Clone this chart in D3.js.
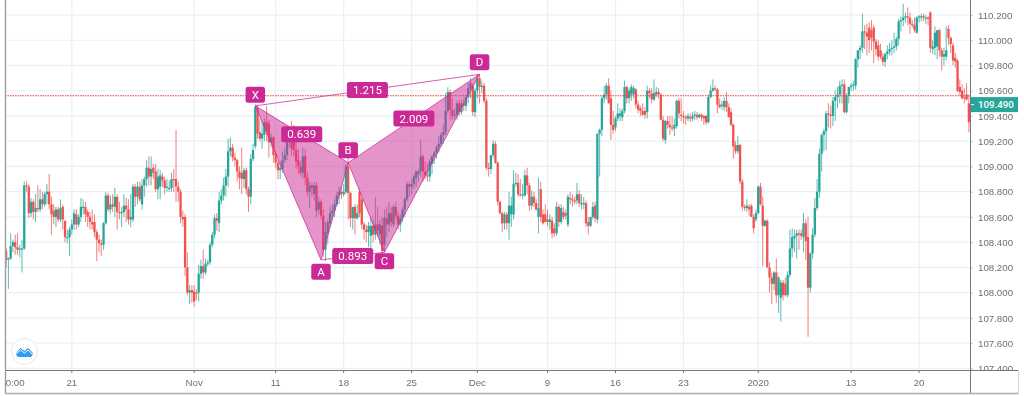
<!DOCTYPE html>
<html>
<head>
<meta charset="utf-8">
<script src="https://cdn.jsdelivr.net/npm/d3@7"></script>
<style>
html, body { margin: 0; padding: 0; background: #fff; overflow: hidden; }
svg { display: block; font-family: Roboto, sans-serif; filter: blur(0.3px); }
</style>
</head>
<body>
<div id="chart"></div>
<script>
// 4h candles, one line per day of six
var opens = [
108.33,108.26,108.27,108.37,108.40,108.36,
108.34,108.35,108.35,108.85,108.84,108.63,
108.72,108.64,108.67,108.66,108.74,108.70,
108.78,108.80,108.70,108.65,108.60,108.66,
108.58,108.68,108.57,108.44,108.44,108.50,
108.54,108.62,108.54,108.60,108.68,108.68,
108.64,108.60,108.56,108.56,108.48,108.42,
108.39,108.38,108.55,108.77,108.66,108.70,
108.68,108.76,108.64,108.63,108.64,108.69,
108.66,108.58,108.58,108.84,108.76,108.84,
108.70,108.85,108.90,108.99,108.92,108.99,
108.96,108.82,108.84,108.92,108.89,108.83,
108.83,108.83,108.90,108.90,108.84,108.80,
108.60,108.60,108.20,108.00,108.02,108.01,
108.00,108.00,108.15,108.21,108.16,108.23,
108.24,108.38,108.46,108.59,108.55,108.73,
108.77,108.85,108.92,109.12,109.15,109.07,
109.05,108.96,108.95,108.90,108.97,108.82,
108.76,109.06,109.16,109.46,109.27,109.22,
109.25,109.35,109.34,109.19,109.23,109.10,
109.03,108.97,108.98,109.05,109.09,109.21,
109.23,109.24,109.13,109.05,109.00,108.95,
109.08,108.91,108.80,108.85,108.78,108.85,
108.66,108.72,108.61,108.34,108.47,108.55,
108.63,108.65,108.70,108.77,108.80,108.78,
108.80,109.00,108.79,108.59,108.68,108.59,
108.80,108.74,108.54,108.50,108.48,108.45,
108.53,108.46,108.54,108.46,108.53,108.38,
108.59,108.54,108.63,108.54,108.68,108.61,
108.54,108.59,108.66,108.74,108.86,108.84,
108.86,108.91,108.94,108.96,109.08,108.96,
108.93,108.92,109.02,109.08,109.11,109.15,
109.18,109.25,109.27,109.44,109.59,109.45,
109.40,109.41,109.50,109.43,109.50,109.48,
109.55,109.62,109.64,109.43,109.60,109.70,
109.63,109.64,109.52,108.99,108.98,109.09,
109.18,109.03,108.72,108.63,108.55,108.62,
108.55,108.62,108.62,108.86,108.87,108.78,
108.77,108.77,108.93,108.85,108.69,108.76,
108.71,108.60,108.82,108.62,108.62,108.58,
108.56,108.57,108.51,108.47,108.68,108.56,
108.64,108.63,108.54,108.75,108.74,108.73,
108.73,108.78,108.70,108.70,108.71,108.56,
108.53,108.60,108.69,108.58,109.26,109.29,
109.54,109.57,109.64,109.54,109.33,109.31,
109.38,109.40,109.39,109.44,109.63,109.54,
109.57,109.57,109.61,109.49,109.46,109.44,
109.44,109.43,109.60,109.58,109.53,109.57,
109.59,109.57,109.37,109.21,109.36,109.33,
109.31,109.30,109.32,109.52,109.41,109.40,
109.39,109.38,109.39,109.38,109.40,109.41,
109.39,109.41,109.40,109.40,109.35,109.55,
109.60,109.62,109.61,109.49,109.48,109.47,
109.52,109.47,109.43,109.33,109.17,109.12,
109.17,108.88,108.68,108.67,108.68,108.69,
108.60,108.58,108.63,108.84,108.69,108.53,
108.57,108.20,108.12,108.07,108.16,107.98,
107.96,108.08,108.07,107.98,108.14,108.35,
108.43,108.45,108.47,108.47,108.44,108.55,
108.44,108.04,108.31,108.46,108.67,108.80,
109.10,109.25,109.28,109.42,109.41,109.40,
109.52,109.55,109.57,109.64,109.65,109.43,
109.56,109.63,109.64,109.64,109.85,109.92,
109.94,110.07,110.06,110.10,110.08,110.10,
109.99,109.96,109.92,109.87,109.83,109.89,
109.91,109.93,109.94,109.95,110.01,110.15,
110.16,110.18,110.19,110.18,110.13,110.12,
110.06,110.18,110.19,110.19,110.18,110.18,
110.22,109.93,109.94,109.95,110.08,109.92,
109.87,109.87,110.09,110.02,109.96,109.86,
109.84,109.63,109.60,109.55,109.57,109.50
];
var highs = [
108.35,108.28,108.47,108.42,108.46,108.47,
108.38,108.42,108.88,108.88,108.86,108.75,
108.74,108.78,108.85,108.82,108.80,108.80,
108.86,108.94,108.76,108.70,108.68,108.68,
108.74,108.70,108.57,108.50,108.52,108.58,
108.66,108.66,108.62,108.75,108.74,108.72,
108.66,108.64,108.66,108.62,108.50,108.46,
108.42,108.56,108.80,108.79,108.77,108.78,
108.83,108.78,108.72,108.68,108.78,108.75,
108.74,108.78,108.86,108.86,108.88,108.88,
108.90,108.92,109.05,109.08,109.08,109.02,
109.02,108.98,108.97,108.95,108.92,108.90,
108.89,108.95,108.98,109.29,108.88,108.82,
108.65,108.62,108.32,108.06,108.06,108.06,
108.03,108.22,108.26,108.34,108.27,108.26,
108.40,108.48,108.62,108.63,108.80,108.82,
108.91,108.98,109.22,109.23,109.18,109.11,
109.06,109.00,109.15,108.99,108.99,108.84,
109.10,109.18,109.49,109.49,109.38,109.36,
109.38,109.48,109.37,109.26,109.24,109.12,
109.05,109.04,109.12,109.15,109.24,109.30,
109.36,109.33,109.22,109.14,109.04,109.15,
109.14,108.95,108.88,108.87,108.88,108.88,
108.76,108.74,108.66,108.56,108.58,108.68,
108.70,108.74,108.80,108.84,108.84,108.86,
109.02,109.07,108.80,108.68,108.70,108.70,
108.82,108.76,108.56,108.54,108.56,108.60,
108.58,108.76,108.68,108.58,108.60,108.66,
108.68,108.72,108.68,108.70,108.72,108.64,
108.62,108.68,108.76,108.88,108.88,108.90,
108.94,108.97,108.98,109.21,109.10,109.04,
109.02,109.06,109.09,109.12,109.17,109.24,
109.27,109.33,109.58,109.63,109.61,109.54,
109.46,109.52,109.53,109.53,109.54,109.57,
109.66,109.70,109.66,109.62,109.73,109.73,
109.68,109.66,109.54,109.03,109.09,109.21,
109.20,109.04,108.73,108.64,108.64,108.64,
108.80,108.76,108.97,108.95,108.94,108.90,
108.86,108.97,108.99,108.87,108.81,108.80,
108.74,108.91,108.88,108.66,108.70,108.66,
108.62,108.60,108.55,108.72,108.70,108.70,
108.68,108.66,108.78,108.80,108.78,108.76,
108.87,108.81,108.78,108.76,108.73,108.60,
108.60,108.72,108.72,109.26,109.30,109.56,
109.64,109.66,109.70,109.60,109.44,109.40,
109.50,109.46,109.46,109.68,109.64,109.62,
109.65,109.64,109.62,109.52,109.48,109.50,
109.47,109.64,109.62,109.62,109.69,109.63,
109.62,109.58,109.40,109.37,109.40,109.40,
109.40,109.38,109.53,109.54,109.54,109.44,
109.41,109.42,109.42,109.43,109.44,109.43,
109.42,109.42,109.41,109.41,109.57,109.64,
109.69,109.64,109.62,109.54,109.52,109.55,
109.59,109.50,109.46,109.34,109.20,109.24,
109.18,108.90,108.70,108.74,108.70,108.70,
108.62,108.66,108.85,108.87,108.76,108.58,
108.58,108.24,108.16,108.17,108.27,108.13,
108.10,108.10,108.12,108.17,108.50,108.51,
108.50,108.50,108.50,108.50,108.63,108.58,
108.60,108.32,108.51,108.75,108.90,109.14,
109.26,109.30,109.44,109.50,109.48,109.55,
109.60,109.63,109.68,109.69,109.69,109.58,
109.63,109.66,109.68,109.86,109.92,109.96,
110.21,110.12,110.13,110.14,110.16,110.12,
110.01,110.00,109.97,109.90,109.90,109.96,
109.98,110.00,110.06,110.03,110.17,110.19,
110.29,110.22,110.26,110.22,110.16,110.18,
110.19,110.20,110.21,110.21,110.20,110.19,
110.23,110.00,110.11,110.08,110.09,109.94,
109.94,110.11,110.12,110.03,109.98,109.90,
109.85,109.69,109.65,109.62,109.66,109.57
];
var lows = [
108.20,108.03,108.26,108.32,108.30,108.30,
108.28,108.16,108.34,108.80,108.59,108.60,
108.58,108.56,108.64,108.64,108.66,108.68,
108.70,108.66,108.46,108.54,108.52,108.56,
108.56,108.50,108.40,108.39,108.29,108.46,
108.50,108.50,108.52,108.56,108.62,108.56,
108.52,108.50,108.50,108.44,108.25,108.32,
108.29,108.34,108.54,108.64,108.62,108.64,
108.60,108.50,108.58,108.52,108.60,108.56,
108.54,108.52,108.56,108.68,108.70,108.72,
108.66,108.76,108.84,108.85,108.85,108.90,
108.80,108.74,108.74,108.84,108.78,108.80,
108.80,108.80,108.80,108.72,108.72,108.55,
108.52,108.13,107.98,107.91,107.92,107.89,
107.94,107.93,108.11,108.11,108.14,108.21,
108.22,108.36,108.43,108.49,108.48,108.70,
108.73,108.76,108.84,109.08,109.04,109.00,
108.88,108.82,108.78,108.83,108.78,108.64,
108.70,109.04,109.14,109.22,109.20,109.14,
109.20,109.20,109.07,109.15,109.03,108.99,
108.90,108.90,108.95,109.03,109.05,109.15,
109.09,109.08,108.98,108.94,108.92,108.90,
108.85,108.76,108.67,108.76,108.73,108.60,
108.62,108.58,108.28,108.25,108.38,108.52,
108.58,108.60,108.68,108.70,108.74,108.76,
108.78,108.58,108.52,108.50,108.46,108.58,
108.60,108.50,108.42,108.40,108.36,108.34,
108.40,108.42,108.44,108.38,108.26,108.32,
108.44,108.48,108.52,108.52,108.58,108.50,
108.48,108.56,108.60,108.72,108.76,108.78,
108.82,108.84,108.88,108.92,108.88,108.90,
108.88,108.88,108.94,109.02,109.06,109.11,
109.16,109.18,109.25,109.42,109.37,109.37,
109.38,109.37,109.40,109.41,109.44,109.44,
109.50,109.54,109.40,109.39,109.54,109.50,
109.58,109.50,108.97,108.92,108.94,109.07,
109.02,108.69,108.62,108.48,108.50,108.50,
108.42,108.52,108.58,108.84,108.76,108.76,
108.74,108.76,108.78,108.65,108.66,108.68,
108.65,108.47,108.56,108.54,108.56,108.53,
108.50,108.43,108.44,108.45,108.52,108.54,
108.58,108.58,108.52,108.70,108.68,108.70,
108.70,108.68,108.66,108.66,108.52,108.46,
108.52,108.58,108.56,108.55,108.92,109.24,
109.50,109.53,109.50,109.21,109.26,109.28,
109.36,109.36,109.36,109.42,109.50,109.50,
109.52,109.54,109.46,109.42,109.40,109.40,
109.38,109.38,109.54,109.50,109.52,109.55,
109.54,109.37,109.20,109.18,109.30,109.25,
109.28,109.24,109.30,109.38,109.36,109.34,
109.33,109.36,109.35,109.36,109.37,109.37,
109.38,109.36,109.33,109.33,109.34,109.54,
109.59,109.60,109.42,109.46,109.45,109.44,
109.43,109.39,109.32,109.06,109.10,109.10,
108.86,108.65,108.65,108.64,108.61,108.60,
108.47,108.56,108.62,108.69,108.21,108.52,
108.20,108.00,107.91,108.02,107.92,107.84,
107.77,107.94,107.97,107.96,108.12,108.28,
108.32,108.27,108.34,108.42,108.32,108.26,
107.65,108.00,108.27,108.44,108.65,108.75,
108.96,109.12,109.13,109.31,109.30,109.32,
109.36,109.46,109.50,109.50,109.42,109.42,
109.50,109.60,109.60,109.61,109.78,109.85,
109.90,109.93,109.88,109.90,109.92,109.82,
109.88,109.84,109.85,109.80,109.79,109.85,
109.88,109.88,109.90,109.92,109.96,110.07,
110.11,110.14,110.12,110.05,110.10,110.06,
110.05,110.14,110.15,110.15,110.13,110.12,
109.90,109.89,109.88,109.85,109.87,109.76,
109.80,109.84,109.96,109.90,109.80,109.78,
109.59,109.56,109.53,109.50,109.52,109.27
];
var closes = [
108.26,108.27,108.37,108.40,108.36,108.34,
108.35,108.35,108.85,108.84,108.63,108.72,
108.64,108.67,108.66,108.74,108.70,108.78,
108.80,108.70,108.62,108.60,108.66,108.58,
108.67,108.58,108.44,108.44,108.50,108.54,
108.63,108.54,108.60,108.68,108.68,108.62,
108.60,108.56,108.54,108.48,108.42,108.39,
108.38,108.55,108.77,108.66,108.70,108.68,
108.76,108.64,108.63,108.64,108.69,108.66,
108.58,108.60,108.84,108.76,108.84,108.74,
108.85,108.90,108.99,108.92,108.98,108.95,
108.82,108.92,108.93,108.89,108.83,108.84,
108.83,108.90,108.89,108.84,108.80,108.60,
108.58,108.20,108.00,108.02,108.00,107.93,
107.99,108.15,108.21,108.16,108.23,108.24,
108.38,108.46,108.59,108.57,108.73,108.77,
108.85,108.92,109.12,109.15,109.07,109.05,
108.96,108.91,108.90,108.97,108.82,108.76,
109.06,109.13,109.47,109.26,109.22,109.26,
109.35,109.27,109.19,109.23,109.09,109.03,
108.97,108.99,109.05,109.09,109.21,109.23,
109.14,109.13,109.04,109.00,108.95,109.08,
108.91,108.80,108.85,108.83,108.85,108.65,
108.72,108.61,108.34,108.48,108.56,108.63,
108.65,108.70,108.77,108.80,108.78,108.80,
109.00,108.79,108.59,108.68,108.59,108.63,
108.63,108.54,108.50,108.48,108.53,108.53,
108.46,108.54,108.49,108.54,108.33,108.59,
108.54,108.63,108.56,108.68,108.61,108.54,
108.59,108.66,108.74,108.86,108.84,108.86,
108.92,108.96,108.96,109.08,108.96,108.93,
108.92,109.04,109.08,109.11,109.15,109.18,
109.25,109.27,109.44,109.59,109.45,109.40,
109.41,109.50,109.43,109.50,109.48,109.55,
109.62,109.66,109.43,109.60,109.70,109.63,
109.64,109.52,108.99,108.98,109.09,109.18,
109.03,108.72,108.63,108.55,108.62,108.55,
108.69,108.69,108.86,108.87,108.78,108.77,
108.78,108.93,108.85,108.69,108.76,108.71,
108.66,108.67,108.60,108.55,108.56,108.56,
108.58,108.47,108.47,108.68,108.56,108.67,
108.60,108.61,108.76,108.74,108.73,108.72,
108.78,108.71,108.71,108.71,108.55,108.53,
108.60,108.68,108.59,109.26,109.29,109.54,
109.57,109.64,109.50,109.33,109.29,109.38,
109.42,109.42,109.44,109.63,109.54,109.60,
109.63,109.62,109.49,109.45,109.44,109.41,
109.41,109.60,109.58,109.53,109.58,109.59,
109.57,109.37,109.22,109.36,109.33,109.31,
109.30,109.33,109.52,109.42,109.40,109.39,
109.38,109.40,109.38,109.40,109.41,109.39,
109.41,109.39,109.38,109.35,109.55,109.60,
109.62,109.61,109.49,109.47,109.49,109.52,
109.47,109.39,109.33,109.16,109.12,109.17,
108.88,108.68,108.67,108.69,108.66,108.60,
108.51,108.63,108.84,108.70,108.53,108.57,
108.20,108.12,108.07,108.16,107.98,108.12,
108.08,107.98,107.98,108.14,108.35,108.44,
108.45,108.47,108.46,108.45,108.55,108.41,
108.04,108.31,108.46,108.67,108.80,109.10,
109.25,109.28,109.42,109.41,109.40,109.52,
109.55,109.57,109.64,109.65,109.43,109.56,
109.63,109.64,109.65,109.85,109.92,109.94,
110.07,110.06,110.03,110.00,110.02,109.99,
109.93,109.87,109.87,109.83,109.89,109.91,
109.93,109.94,109.95,110.01,110.15,110.16,
110.18,110.19,110.18,110.13,110.12,110.08,
110.18,110.19,110.19,110.18,110.18,110.17,
109.94,109.95,110.06,110.08,109.92,109.87,
109.89,109.92,110.02,109.97,109.84,109.83,
109.60,109.59,109.54,109.54,109.53,109.35
];

var yTickValues = [107.4, 107.6, 107.8, 108.0, 108.2, 108.4, 108.6, 108.8, 109.0, 109.2, 109.4, 109.6, 109.8, 110.0, 110.2];
var xTickIndex = [4, 29, 83, 119, 149, 179, 208, 239, 269, 299, 332, 373, 403];
var xTickLabels = ["0:00", "21", "Nov", "11", "18", "25", "Dec", "9", "16", "23", "2020", "13", "20"];

// harmonic pattern points, candle index and price
var pointNames = ["X", "A", "B", "C", "D"];
var pointIndex = [110, 139, 151, 167, 209];
var pointPrices = [109.48, 108.26, 109.03, 108.32, 109.73];
var ratioLabels = ["0.639", "0.893", "2.009", "1.215"];
var ratioEnds = [["X", "B"], ["A", "C"], ["B", "D"], ["X", "D"]];

var dashedPrice = 109.56;
var lastPrice = 109.49;

var UP = "#26a69a", DOWN = "#ef5350", PINK = "#cb2a96", GRID = "#e9f0f4", AXIS = "#73767f", TEXT = "#6c6f79";
var width = 1024, height = 396;
var plot = { left: 5, right: 970, top: 0, bottom: 370 };

var svg = d3.select("#chart").append("svg")
    .attr("width", width)
    .attr("height", height);

var n = closes.length;
var x = d3.scaleBand().domain(d3.range(n)).range([plot.left, plot.right]);
var y = d3.scaleLinear().domain([107.4, 110.2]).range([368.4, 15]);
var cx = function (i) { return x(i) + x.bandwidth() / 2; };

svg.append("defs").append("clipPath").attr("id", "plot-clip")
    .append("rect").attr("x", plot.left).attr("y", 0).attr("width", plot.right - plot.left).attr("height", plot.bottom);
svg.select("defs").append("clipPath").attr("id", "price-clip")
    .append("rect").attr("x", 0).attr("y", 0).attr("width", 60).attr("height", plot.bottom);

// grid
svg.append("g").selectAll("line").data(yTickValues).enter().append("line")
    .attr("x1", plot.left).attr("x2", plot.right)
    .attr("y1", d => y(d)).attr("y2", d => y(d))
    .attr("stroke", GRID).attr("stroke-width", 1.2);
svg.append("g").selectAll("line").data(xTickIndex.slice(1)).enter().append("line")
    .attr("x1", d => cx(d)).attr("x2", d => cx(d))
    .attr("y1", 0).attr("y2", plot.bottom)
    .attr("stroke", GRID).attr("stroke-width", 1.2);

// candles
var candles = svg.append("g").attr("clip-path", "url(#plot-clip)");
var idx = d3.range(n);
var colorOf = function (i) { return closes[i] >= opens[i] ? UP : DOWN; };
candles.selectAll(".wick").data(idx).enter().append("line")
    .attr("class", "wick")
    .attr("x1", d => cx(d)).attr("x2", d => cx(d))
    .attr("y1", d => y(highs[d])).attr("y2", d => y(lows[d]))
    .attr("stroke", colorOf).attr("stroke-opacity", 0.75).attr("stroke-width", 1);
candles.selectAll(".body").data(idx).enter().append("rect")
    .attr("class", "body")
    .attr("x", d => cx(d) - 1.15).attr("width", 2.3)
    .attr("y", d => Math.min(y(opens[d]), y(closes[d])))
    .attr("height", d => Math.max(1.2, Math.abs(y(opens[d]) - y(closes[d]))))
    .attr("fill", colorOf);

// dotted price line
svg.append("line")
    .attr("x1", plot.left).attr("x2", plot.right)
    .attr("y1", y(dashedPrice)).attr("y2", y(dashedPrice))
    .attr("stroke", "#f4403c").attr("stroke-width", 1.1).attr("stroke-dasharray", "1.5 1");

// pattern
var pointAt = {};
pointNames.forEach(function (name, i) {
    pointAt[name] = { x: cx(pointIndex[i]), y: y(pointPrices[i]) };
});
var pattern = svg.append("g");
var lineGen = d3.line().x(d => pointAt[d].x).y(d => pointAt[d].y);
[["X", "A", "B"], ["B", "C", "D"]].forEach(function (tri) {
    pattern.append("path")
        .attr("d", lineGen(tri) + "Z")
        .attr("fill", PINK).attr("fill-opacity", 0.5)
        .attr("stroke", PINK).attr("stroke-opacity", 0.75).attr("stroke-width", 1);
});
[["X", "D"], ["A", "C"]].forEach(function (seg) {
    pattern.append("path")
        .attr("d", lineGen(seg))
        .attr("fill", "none")
        .attr("stroke", PINK).attr("stroke-opacity", 0.75).attr("stroke-width", 1);
});

function addTag(g, text, mx, my, w) {
    g.append("rect")
        .attr("x", mx - w / 2).attr("y", my - 8)
        .attr("width", w).attr("height", 16).attr("rx", 2.5)
        .attr("fill", PINK);
    g.append("text")
        .attr("x", mx).attr("y", my).attr("dy", "0.36em")
        .attr("text-anchor", "middle")
        .attr("fill", "#fff").style("font-size", "11.5px")
        .text(text);
}

ratioLabels.forEach(function (label, i) {
    var a = pointAt[ratioEnds[i][0]], b = pointAt[ratioEnds[i][1]];
    addTag(pattern, label, (a.x + b.x) / 2, (a.y + b.y) / 2, 41);
});
var tagOffset = { X: -11, A: 12, B: -12.5, C: 9, D: -12 };
pointNames.forEach(function (name) {
    var p = pointAt[name];
    addTag(pattern, name, p.x, p.y + tagOffset[name], 19.5);
});

// price axis
var yAxis = svg.append("g")
    .attr("transform", "translate(" + plot.right + ",0)")
    .attr("clip-path", "url(#price-clip)")
    .call(d3.axisRight(y).tickValues(yTickValues).tickFormat(d3.format(".3f")).tickSize(3).tickPadding(5));
yAxis.select(".domain").remove();
yAxis.selectAll("line").attr("stroke", "#c9ccd2");
yAxis.selectAll("text").attr("fill", TEXT).style("font-size", "9.7px");

// time axis
var xAxis = svg.append("g")
    .attr("transform", "translate(0," + plot.bottom + ")")
    .call(d3.axisBottom(x).tickValues(xTickIndex)
        .tickFormat(function (d) { return xTickLabels[xTickIndex.indexOf(d)]; })
        .tickSize(3).tickPadding(6));
xAxis.select(".domain").remove();
xAxis.selectAll("line").attr("stroke", AXIS);
xAxis.selectAll("text").attr("fill", TEXT).style("font-size", "9.7px");
xAxis.selectAll(".tick").filter(d => d === xTickIndex[0]).select("line").remove();

// frame
svg.append("line").attr("x1", plot.left).attr("x2", 1018).attr("y1", plot.bottom + 0.5).attr("y2", plot.bottom + 0.5).attr("stroke", AXIS);
svg.append("line").attr("x1", plot.right + 0.5).attr("x2", plot.right + 0.5).attr("y1", 0).attr("y2", 393).attr("stroke", AXIS);
svg.append("line").attr("x1", 5.5).attr("x2", 5.5).attr("y1", 0).attr("y2", 394).attr("stroke", "#9a9da6").attr("stroke-width", 1.4);
svg.append("line").attr("x1", 5).attr("x2", 1019).attr("y1", 393.5).attr("y2", 393.5).attr("stroke", "#a9acb3").attr("stroke-width", 1.4);
svg.append("line").attr("x1", 1018.5).attr("x2", 1018.5).attr("y1", plot.bottom).attr("y2", 394).attr("stroke", "#d5d7db");

// last price tag
var tag = svg.append("g");
tag.append("rect")
    .attr("x", plot.right + 1).attr("y", y(lastPrice) - 7.5)
    .attr("width", 47).attr("height", 15)
    .attr("fill", UP);
tag.append("line")
    .attr("x1", plot.right + 1).attr("x2", plot.right + 4)
    .attr("y1", y(lastPrice)).attr("y2", y(lastPrice))
    .attr("stroke", "#fff");
tag.append("text")
    .attr("x", 978).attr("y", y(lastPrice)).attr("dy", "0.36em")
    .attr("fill", "#fff").style("font-size", "9.7px").style("font-weight", 500)
    .text(d3.format(".3f")(lastPrice));

// logo badge
var logo = svg.append("g").attr("transform", "translate(24.5,351.5)");
logo.append("circle").attr("r", 13).attr("fill", "#fff").attr("stroke", "#e6e8ea");
logo.append("path")
    .attr("d", "M-8,1 L-4,-3.5 L0,-0.5 L3.5,-3.5 L8,1 C9,4 7,5.5 5,5.5 L-5,5.5 C-7,5.5 -9,4 -8,1 Z")
    .attr("fill", "#2f9df4");
logo.append("path")
    .attr("d", "M-8,2 L-4,-1.5 L0,1.5 L3.5,-1.5 L8,3")
    .attr("fill", "none").attr("stroke", "#fff").attr("stroke-width", 1);
</script>
</body>
</html>
